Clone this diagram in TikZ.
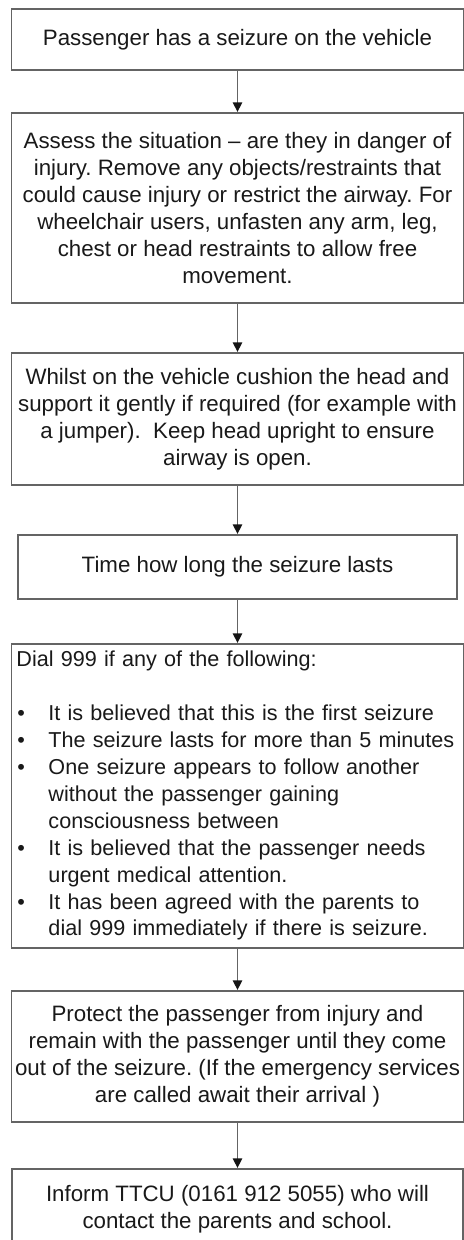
\documentclass[tikz,border=0pt]{standalone}
\usepackage{fontspec}
\setmainfont{Liberation Sans}
\usepackage[usenames,dvipsnames]{xcolor}
\usepackage{tikz}
\usetikzlibrary{arrows.meta}
\frenchspacing

\definecolor{BoxGray}{RGB}{100,100,100}
\definecolor{TextGray}{RGB}{25,25,25}
\definecolor{TipDark}{RGB}{20,20,20}

\newcommand*{\flowbul}{\par\hangindent=16pt\hangafter=1\noindent\makebox[16pt][l]{\hspace{0.4pt}\textbullet}}

\begin{document}
\begin{tikzpicture}[x=0.5pt,y=0.5pt]
		\tikzstyle{flowbox}=[draw=BoxGray,
								  line width=0.9pt,
								  text=TextGray,
								  minimum width=226pt,
								  inner sep=0pt,
								  anchor=north,
								  align=center,
								  font=\fontsize{11.15}{13.45}\selectfont]
		\tikzstyle{listbox}=[draw=BoxGray,
								  line width=0.9pt,
								  text=TextGray,
								  minimum width=226pt,
								  text width=221pt,
								  inner sep=0pt,
								  anchor=north,
								  font=\fontsize{10.8}{13.45}\selectfont]
		\tikzstyle{FlowSty}=[-{Triangle[width=4.6pt,length=4.8pt,color=TipDark]},draw=BoxGray,line width=0.9pt]

\useasboundingbox (0,0) rectangle (464,-1240);

% steps
\node [flowbox,minimum height=30.5pt] at (237.5,-8) (seize) {Passenger has a seizure on the vehicle};
\node [flowbox,minimum height=95pt] at (237.5,-112) (assess) {Assess the situation -- are they in danger of\\
	injury. Remove any objects/restraints that\\
	could cause injury or restrict the airway. For\\
	wheelchair users, unfasten any arm, leg,\\
	chest or head restraints to allow free\\
	movement.};
\node [flowbox,minimum height=66pt] at (237.5,-352) (cushion) {Whilst on the vehicle cushion the head and\\
	support it gently if required (for example with\\
	a jumper).\ \ Keep head upright to ensure\\
	airway is open.};
\node [flowbox,minimum width=219.5pt,minimum height=32pt] at (237.5,-534) (timing) {Time how long the seizure lasts};
\node [listbox,minimum height=152pt] at (237.5,-643) (dial) {\parindent=0pt\parskip=0pt\rightskip=-10pt plus 1fil
	\noindent Dial 999 if any of the following:\par\vskip13.45pt
	\flowbul It is believed that this is the first seizure
	\flowbul The seizure lasts for more than 5 minutes
	\flowbul One seizure appears to follow another\newline without the passenger gaining\newline consciousness between
	\flowbul It is believed that the passenger needs\newline urgent medical attention.
	\flowbul It has been agreed with the parents to\newline dial 999 immediately if there is seizure.\par};
\node [flowbox,minimum height=65.5pt] at (237.5,-990) (protect) {Protect the passenger from injury and\\
	remain with the passenger until they come\\
	out of the seizure. (If the emergency services\\
	are called await their arrival )};
\node [flowbox,minimum width=225.5pt,minimum height=40pt] at (237.5,-1168) (inform) {Inform TTCU (0161 912 5055) who will\\
	contact the parents and school.};

	\path[FlowSty] (seize) edge (assess);
	\path[FlowSty] (assess) edge (cushion);
	\path[FlowSty] (cushion) edge (timing);
	\path[FlowSty] (timing) edge (dial);
	\path[FlowSty] (dial) edge (protect);
	\path[FlowSty] (protect) edge (inform);

\end{tikzpicture}
\end{document}
